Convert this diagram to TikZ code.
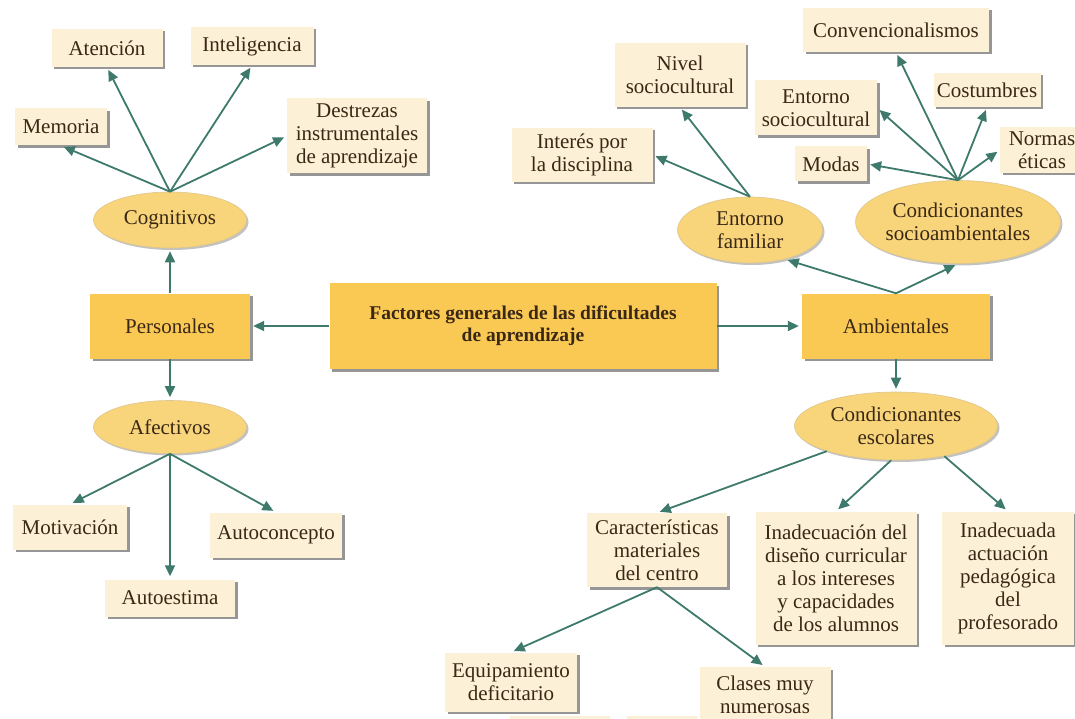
\documentclass[tikz,border=0pt]{standalone}
\usepackage{fontspec}
\setmainfont{Liberation Serif}
\usepackage{tikz}
\usetikzlibrary{arrows.meta,shapes.geometric,shadows}

\definecolor{crema}{RGB}{252,240,214}
\definecolor{oro}{RGB}{250,201,84}
\definecolor{oroclaro}{RGB}{248,212,122}
\definecolor{verde}{RGB}{62,122,108}
\definecolor{tinta}{RGB}{58,40,22}

\begin{document}
\begin{tikzpicture}[x=1pt, y=-1pt,
  font=\fontsize{21}{23}\selectfont, text=tinta,
  sombra/.style={drop shadow={shadow xshift=2.5pt, shadow yshift=-2.5pt, fill=black!55, opacity=.75}},
  hoja/.style={rectangle, fill=crema, align=center, inner sep=2pt, sombra},
  caja/.style={rectangle, fill=oro, align=center, inner sep=2pt, sombra},
  elipse/.style={ellipse, fill=oroclaro, draw=oro!80!black!60, line width=.6pt, align=center, inner sep=0pt,
    drop shadow={shadow xshift=2pt, shadow yshift=-2pt, fill=black!40, opacity=.6}},
  flecha/.style={-{Triangle[length=11pt,width=10pt]}, draw=verde, line width=1.8pt, shorten >=3pt}]
  \clip (0,0) rectangle (1075,719);
  % Centro
  \node[caja, minimum width=387, minimum height=86, font=\bfseries\fontsize{19.5}{22}\selectfont] (fac) at (523,326)
    {Factores generales de las dificultades\\de aprendizaje};
  \node[caja, minimum width=160, minimum height=65] (per) at (170,326) {Personales};
  \node[caja, minimum width=188, minimum height=65] (amb) at (896,326) {Ambientales};
  % Personales
  \node[elipse, minimum width=153, minimum height=56] (cog) at (170,220) {Cognitivos};
  \node[elipse, minimum width=153, minimum height=53] (afe) at (170,427) {Afectivos};
  \node[hoja, minimum width=92, minimum height=37] (mem) at (61,127) {Memoria};
  \node[hoja, minimum width=111, minimum height=38] (ate) at (107,48) {Atención};
  \node[hoja, minimum width=123, minimum height=38] (int) at (252,46) {Inteligencia};
  \node[hoja, minimum width=140, minimum height=75] (des) at (357,136) {Destrezas\\instrumentales\\de aprendizaje};
  \node[hoja, minimum width=114, minimum height=45] (mot) at (70,527) {Motivación};
  \node[hoja, minimum width=130, minimum height=37] (aes) at (170,598) {Autoestima};
  \node[hoja, minimum width=132, minimum height=45] (acp) at (276,535) {Autoconcepto};
  % Ambientales
  \node[elipse, minimum width=145, minimum height=66] (fam) at (750,230) {Entorno\\familiar};
  \node[elipse, minimum width=205, minimum height=83] (soc) at (958,222) {Condicionantes\\socioambientales};
  \node[hoja, minimum width=141, minimum height=54] (idi) at (582,155) {Interés por\\la disciplina};
  \node[hoja, minimum width=131, minimum height=64] (niv) at (680,75) {Nivel\\sociocultural};
  \node[hoja, minimum width=186, minimum height=44] (con) at (896,30) {Convencionalismos};
  \node[hoja, minimum width=122, minimum height=55] (ens) at (816,108) {Entorno\\sociocultural};
  \node[hoja, minimum width=107, minimum height=34] (cos) at (987,90) {Costumbres};
  \node[hoja, minimum width=72, minimum height=35] (mod) at (831,164) {Modas};
  \node[hoja, minimum width=84, minimum height=46] (nor) at (1042,150) {Normas\\éticas};
  % Escolares
  \node[elipse, minimum width=203, minimum height=68] (esc) at (896,426) {Condicionantes\\escolares};
  \node[hoja, minimum width=140, minimum height=74] (car) at (657,550) {Características\\materiales\\del centro};
  \node[hoja, minimum width=161, minimum height=133] (ina) at (836,578)
    {Inadecuación del\\diseño curricular\\a los intereses\\y capacidades\\de los alumnos};
  \node[hoja, minimum width=132, minimum height=133] (ind) at (1008,578)
    {Inadecuada\\actuación\\pedagógica\\del\\profesorado};
  \node[hoja, minimum width=132, minimum height=59] (equ) at (511,682) {Equipamiento\\deficitario};
  \node[hoja, minimum width=131, minimum height=56] (cla) at (765,695) {Clases muy\\numerosas};
  \node[hoja, minimum width=100, minimum height=40] (inf1) at (560,736) {};
  \node[hoja, minimum width=70, minimum height=40] (inf2) at (662,736) {};
  % Flechas
  \draw[flecha] (fac.west) -- (per.east);
  \draw[flecha] (fac.east) -- (amb.west);
  \draw[flecha] (per.north) -- (cog.south);
  \draw[flecha] (per.south) -- (afe.north);
  \foreach \d in {mem.south, ate.south, int.south, des.west}
    \draw[flecha] (cog.north) -- (\d);
  \foreach \d in {mot.north, aes.north, acp.north}
    \draw[flecha] (afe.south) -- (\d);
  \draw[flecha] (amb.north) -- (fam.-40);
  \draw[flecha] (amb.north) -- (soc.south);
  \foreach \d in {idi.east, niv.south}
    \draw[flecha] (fam.north) -- (\d);
  \foreach \d in {con.south, ens.east, mod.east, cos.south, nor.west}
    \draw[flecha] (soc.north) -- (\d);
  \draw[flecha] (amb.south) -- (esc.north);
  \draw[flecha] (esc.200) -- (car.north);
  \draw[flecha] (esc.262) -- (ina.north);
  \draw[flecha] (esc.-32) -- (ind.north);
  \foreach \d in {equ.north, cla.north}
    \draw[flecha] (car.south) -- (\d);
\end{tikzpicture}
\end{document}
